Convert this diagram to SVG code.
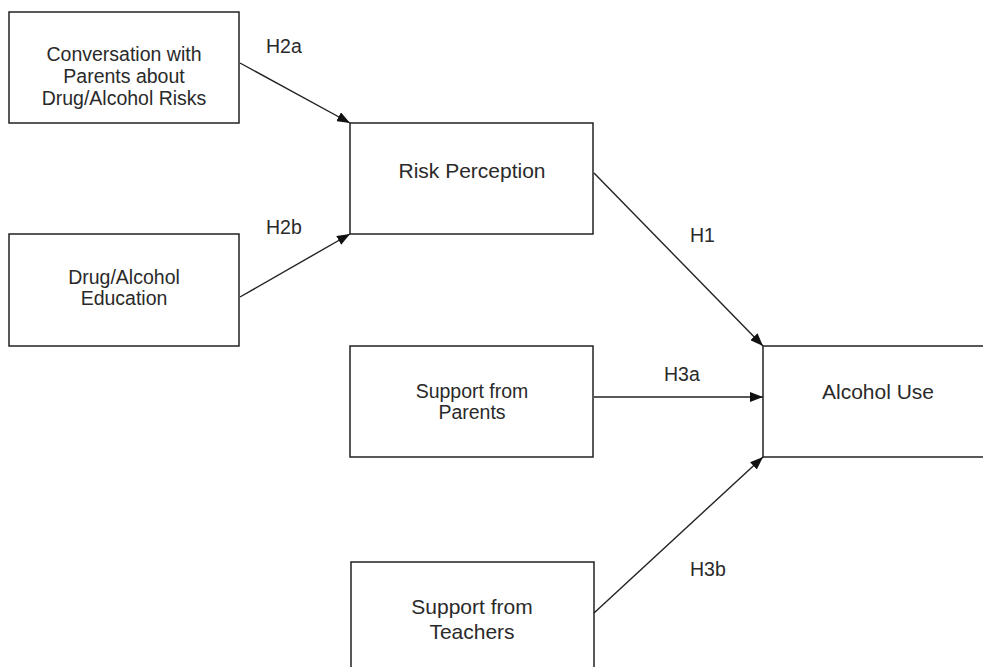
<svg xmlns="http://www.w3.org/2000/svg" width="983" height="667" viewBox="0 0 983 667">
  <style>
    .box { fill: #ffffff; stroke: #222222; stroke-width: 1.5; }
    .t { font-family: "Liberation Sans", Arial, sans-serif; fill: #2a2a2a; text-anchor: middle; }
    .lbl { font-family: "Liberation Sans", Arial, sans-serif; fill: #2a2a2a; font-size: 19.5px; }
    .edge { stroke: #222222; stroke-width: 1.4; fill: none; marker-end: url(#arrow); }
  </style>
  <defs>
    <marker id="arrow" markerUnits="userSpaceOnUse" markerWidth="14" markerHeight="10" refX="13" refY="5" orient="auto">
      <path d="M0,0 L13,5 L0,10 z" fill="#111111"/>
    </marker>
  </defs>
  <rect width="983" height="667" fill="#ffffff"/>

  <g id="conversation">
    <rect class="box" x="9" y="12" width="230" height="111"/>
    <text class="t" font-size="19.5" x="124" y="60.5">Conversation with</text>
    <text class="t" font-size="19.5" x="124" y="82.5">Parents about</text>
    <text class="t" font-size="19.5" x="124" y="104.5">Drug/Alcohol Risks</text>
  </g>

  <g id="education">
    <rect class="box" x="9" y="234" width="230" height="112"/>
    <text class="t" font-size="19.5" x="124" y="283.5">Drug/Alcohol</text>
    <text class="t" font-size="19.5" x="124" y="304.5">Education</text>
  </g>

  <g id="risk">
    <rect class="box" x="350" y="123" width="243" height="111"/>
    <text class="t" font-size="21" x="472" y="177.5">Risk Perception</text>
  </g>

  <g id="parents">
    <rect class="box" x="350" y="346" width="243" height="111"/>
    <text class="t" font-size="19.5" x="472" y="397.5">Support from</text>
    <text class="t" font-size="19.5" x="472" y="419">Parents</text>
  </g>

  <g id="teachers">
    <rect class="box" x="351" y="562" width="243" height="120"/>
    <text class="t" font-size="21" x="472" y="614">Support from</text>
    <text class="t" font-size="21" x="472" y="638.5">Teachers</text>
  </g>

  <g id="alcohol">
    <rect class="box" x="763" y="346" width="230" height="111"/>
    <text class="t" font-size="21" x="878" y="399">Alcohol Use</text>
  </g>

  <g id="connectors">
    <line class="edge" x1="240" y1="63" x2="350" y2="123"/>
    <line class="edge" x1="240" y1="297" x2="350" y2="234"/>
    <line class="edge" x1="594" y1="173" x2="763" y2="346"/>
    <line class="edge" x1="594" y1="397" x2="763" y2="397"/>
    <line class="edge" x1="594" y1="613" x2="763" y2="457"/>
    <text class="lbl" x="266" y="52.5">H2a</text>
    <text class="lbl" x="266" y="233.5">H2b</text>
    <text class="lbl" x="690" y="241.5">H1</text>
    <text class="lbl" x="664" y="380.5">H3a</text>
    <text class="lbl" x="690" y="576">H3b</text>
  </g>
</svg>
